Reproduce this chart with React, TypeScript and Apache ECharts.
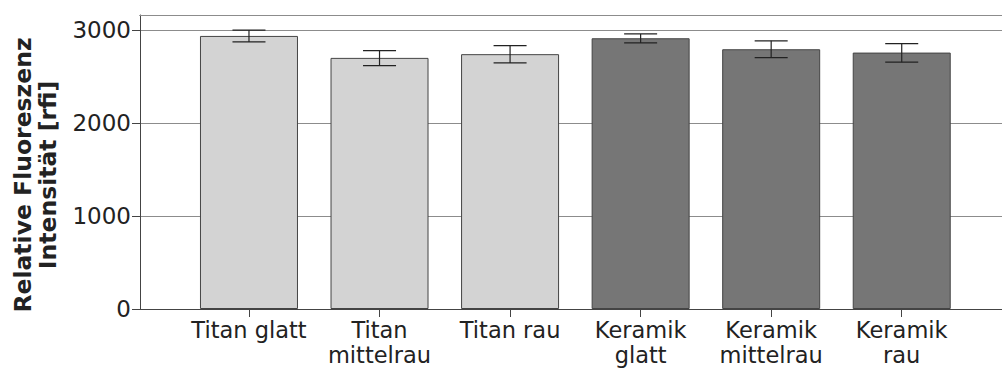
import React, { useEffect, useRef } from "react";
import * as echarts from "echarts";

const categories = [
  "Titan glatt",
  "Titan\nmittelrau",
  "Titan rau",
  "Keramik\nglatt",
  "Keramik\nmittelrau",
  "Keramik\nrau",
];
const materials = ["Titan", "Titan", "Titan", "Keramik", "Keramik", "Keramik"];
const meanValues = [2935, 2699, 2739, 2910, 2792, 2756];
const errLower = [2871, 2616, 2645, 2860, 2702, 2653];
const errUpper = [2997, 2777, 2831, 2957, 2882, 2853];
const yTicks = [0, 1000, 2000, 3000];
const yMax = 3160;
const yTitle = "Relative Fluoreszenz\nIntensität [rfi]";

const materialColor: Record<string, string> = {
  Titan: "#d3d3d3",
  Keramik: "#767676",
};

const FONT = '"DejaVu Sans", sans-serif';

export default function App() {
  const ref = useRef<HTMLDivElement>(null);
  useEffect(() => {
    if (!ref.current) return;
    const chart = echarts.init(ref.current, undefined, { renderer: "svg" });
    const option: any = {
      animation: false,
      backgroundColor: "#ffffff",
      grid: [
        { left: 140, right: 0, top: 15, bottom: 60 },
        { left: 183.7, right: 35, top: 15, bottom: 60 },
      ],
      xAxis: [
        {
          gridIndex: 0,
          type: "value",
          min: 0,
          max: 1,
          position: "bottom",
          axisLine: { show: true, lineStyle: { color: "#444", width: 1 } },
          axisTick: { show: false },
          axisLabel: { show: false },
          splitLine: { show: false },
        },
        {
          gridIndex: 1,
          type: "category",
          data: categories,
          axisLine: { show: false },
          axisTick: {
            show: true,
            alignWithLabel: true,
            length: 8,
            lineStyle: { color: "#444", width: 1 },
          },
          axisLabel: {
            interval: 0,
            fontFamily: FONT,
            fontSize: 22.5,
            lineHeight: 25,
            color: "#222",
            margin: 8,
          },
          splitLine: { show: false },
        },
        {
          gridIndex: 0,
          type: "value",
          min: 0,
          max: 1,
          position: "top",
          axisLine: { show: true, lineStyle: { color: "#8c8c8c", width: 1 } },
          axisTick: { show: false },
          axisLabel: { show: false },
          splitLine: { show: false },
        },
      ],
      yAxis: [
        {
          gridIndex: 0,
          type: "value",
          min: 0,
          max: yMax,
          interval: 1000,
          axisLine: { show: true, lineStyle: { color: "#444", width: 1 } },
          axisTick: {
            show: true,
            inside: false,
            length: 8,
            lineStyle: { color: "#444", width: 1 },
          },
          axisLabel: {
            fontFamily: FONT,
            fontSize: 23,
            color: "#222",
            margin: 9,
            formatter: (v: number) => (yTicks.includes(v) ? String(v) : ""),
          },
          splitLine: { show: true, lineStyle: { color: "#8c8c8c", width: 1 } },
        },
        {
          gridIndex: 1,
          type: "value",
          min: 0,
          max: yMax,
          interval: 1000,
          show: false,
          splitLine: { show: false },
        },
      ],
      series: [
        {
          type: "bar",
          xAxisIndex: 1,
          yAxisIndex: 1,
          barWidth: 98,
          data: meanValues.map((v, i) => ({
            value: v,
            itemStyle: {
              color: materialColor[materials[i]],
              borderColor: "#444",
              borderWidth: 1,
            },
          })),
          z: 3,
        },
        {
          type: "custom",
          xAxisIndex: 1,
          yAxisIndex: 1,
          z: 5,
          encode: { x: 0, y: [1, 2] },
          data: categories.map((_, i) => [i, errLower[i], errUpper[i]]),
          renderItem: (params: any, api: any) => {
            const idx = api.value(0);
            const lo = api.coord([idx, api.value(1)]);
            const hi = api.coord([idx, api.value(2)]);
            const hw = 16.5;
            const style = { stroke: "#222", lineWidth: 1.2 };
            return {
              type: "group",
              children: [
                { type: "line", shape: { x1: lo[0], y1: lo[1], x2: hi[0], y2: hi[1] }, style },
                { type: "line", shape: { x1: hi[0] - hw, y1: hi[1], x2: hi[0] + hw, y2: hi[1] }, style },
                { type: "line", shape: { x1: lo[0] - hw, y1: lo[1], x2: lo[0] + hw, y2: lo[1] }, style },
              ],
            };
          },
        },
      ],
      graphic: [
        {
          type: "text",
          x: 35,
          y: 175,
          rotation: Math.PI / 2,
          style: {
            text: yTitle,
            fontFamily: FONT,
            fontSize: 23.5,
            fontWeight: "bold",
            lineHeight: 25,
            fill: "#222",
            align: "center",
            verticalAlign: "middle",
          },
        },
        {
          type: "rect",
          z: 100,
          shape: { x: 128, y: 12, width: 11.5, height: 6 },
          style: { fill: "#ffffff" },
        },
      ],
    };
    chart.setOption(option);
    return () => chart.dispose();
  }, []);
  return (
    <div
      ref={ref}
      style={{ position: "fixed", left: 0, top: 0, width: 1002, height: 369 }}
    />
  );
}
